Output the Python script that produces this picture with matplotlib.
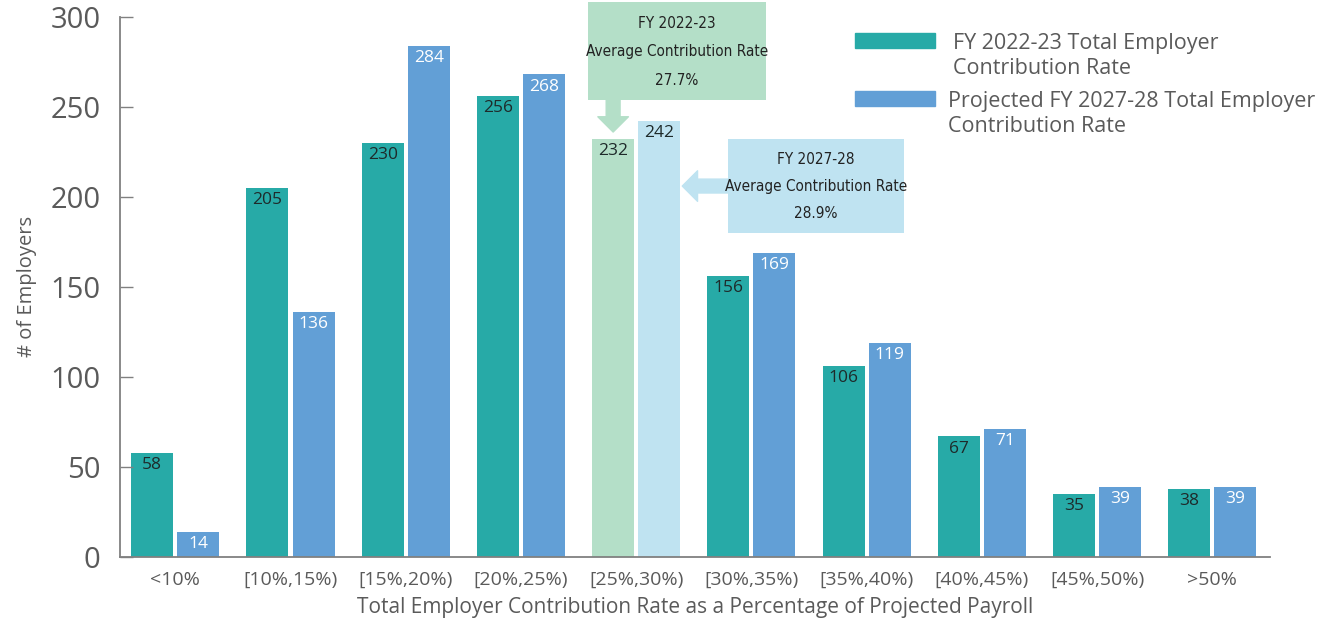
import matplotlib as mpl
mpl.use('Agg')
import matplotlib.pyplot as plt
import matplotlib.patches as mpatches
import numpy as np

# data
categories = ['<10%', '[10%,15%)', '[15%,20%)', '[20%,25%)', '[25%,30%)',
              '[30%,35%)', '[35%,40%)', '[40%,45%)', '[45%,50%)', '>50%']
fy2223 = [58, 205, 230, 256, 232, 156, 106, 67, 35, 38]
fy2728 = [14, 136, 284, 268, 242, 169, 119, 71, 39, 39]
series_names = ['FY 2022-23 Total Employer\nContribution Rate',
                'Projected FY 2027-28 Total Employer\nContribution Rate']
avg_notes = ['FY 2022-23\nAverage Contribution Rate\n27.7%',
             'FY 2027-28\nAverage Contribution Rate\n28.9%']
avg_idx = 4  # group holding the average

teal = '#27aaa7'
blue = '#629fd6'
light_green = '#b4dfc8'
light_blue = '#bfe3f1'
gray = '#5a5a5a'
spine = '#808080'

plt.rcParams['font.family'] = ['Open Sans', 'DejaVu Sans']

fig = plt.figure(figsize=(13.27, 6.22), dpi=100)
ax = fig.add_axes([0.0904, 0.1045, 0.8666, 0.8685])

x = np.arange(len(categories))
w = 0.365
off = 0.2
c1 = [light_green if i == avg_idx else teal for i in x]
c2 = [light_blue if i == avg_idx else blue for i in x]
b1 = ax.bar(x - off, fy2223, w, color=c1)
b2 = ax.bar(x + off, fy2728, w, color=c2)

for i, v in enumerate(fy2223):
    ax.annotate(str(v), (x[i] - off, v), xytext=(0, -3), textcoords='offset points',
                ha='center', va='top', fontsize=12.5, color='#1e2a2a')
for i, v in enumerate(fy2728):
    col = '#1e2a2a' if i == avg_idx else 'white'
    ax.annotate(str(v), (x[i] + off, v), xytext=(0, -3), textcoords='offset points',
                ha='center', va='top', fontsize=12.5, color=col)

ax.set_xlim(-0.48, 9.5)
ax.set_ylim(0, 300)
ax.set_yticks(range(0, 301, 50))
ax.set_xticks(x)
ax.set_xticklabels(categories)
ax.tick_params(axis='y', direction='in', length=9, width=1, color=spine,
               labelsize=21, labelcolor=gray, pad=14)
ax.tick_params(axis='x', length=0, labelsize=14, labelcolor=gray, pad=10)
for s in ['top', 'right']:
    ax.spines[s].set_visible(False)
for s in ['left', 'bottom']:
    ax.spines[s].set_color(spine)
    ax.spines[s].set_linewidth(1.3)
ax.set_xlabel('Total Employer Contribution Rate as a Percentage of Projected Payroll',
              fontsize=15, color=gray, labelpad=6)
ax.set_ylabel('# of Employers', fontsize=14.5, color=gray, labelpad=10)

# average call-out boxes
note_font = dict(family='DejaVu Sans', stretch='condensed', fontsize=11,
                 color='#222222', ha='center', va='center')
box1 = mpatches.Rectangle((3.58, 254), 1.55, 54, color=light_green, clip_on=False, lw=0)
ax.add_patch(box1)
ax.text(3.58 + 1.55 / 2, 280.5, avg_notes[0], linespacing=2.1, **note_font)
arr1 = mpatches.FancyArrowPatch((avg_idx - off, 254), (avg_idx - off, 236),
                                arrowstyle='simple,head_width=2.2,head_length=1.1,tail_width=1.0',
                                mutation_scale=10, color=light_green, shrinkA=0, shrinkB=0)
ax.add_patch(arr1)

box2 = mpatches.Rectangle((4.80, 180), 1.52, 52, color=light_blue, clip_on=False, lw=0)
ax.add_patch(box2)
ax.text(4.80 + 1.52 / 2, 205.5, avg_notes[1], linespacing=2.0, **note_font)
arr2 = mpatches.FancyArrowPatch((4.80, 206), (avg_idx + off + 0.2, 206),
                                arrowstyle='simple,head_width=2.2,head_length=1.1,tail_width=1.0',
                                mutation_scale=10, color=light_blue, shrinkA=0, shrinkB=0)
ax.add_patch(arr2)

# legend drawn by hand
fig.patches.append(mpatches.Rectangle((855 / 1327, 1 - 48 / 622), 80 / 1327, 15 / 622,
                                      color=teal, transform=fig.transFigure, figure=fig))
fig.patches.append(mpatches.Rectangle((855 / 1327, 1 - 106 / 622), 80 / 1327, 15 / 622,
                                      color=blue, transform=fig.transFigure, figure=fig))
fig.text(953 / 1327, 1 - 33 / 622, series_names[0], fontsize=15.5, color=gray,
         va='top', ha='left', linespacing=1.25)
fig.text(948 / 1327, 1 - 91 / 622, series_names[1], fontsize=15.5, color=gray,
         va='top', ha='left', linespacing=1.25)

fig.savefig('out.png', dpi=100)
